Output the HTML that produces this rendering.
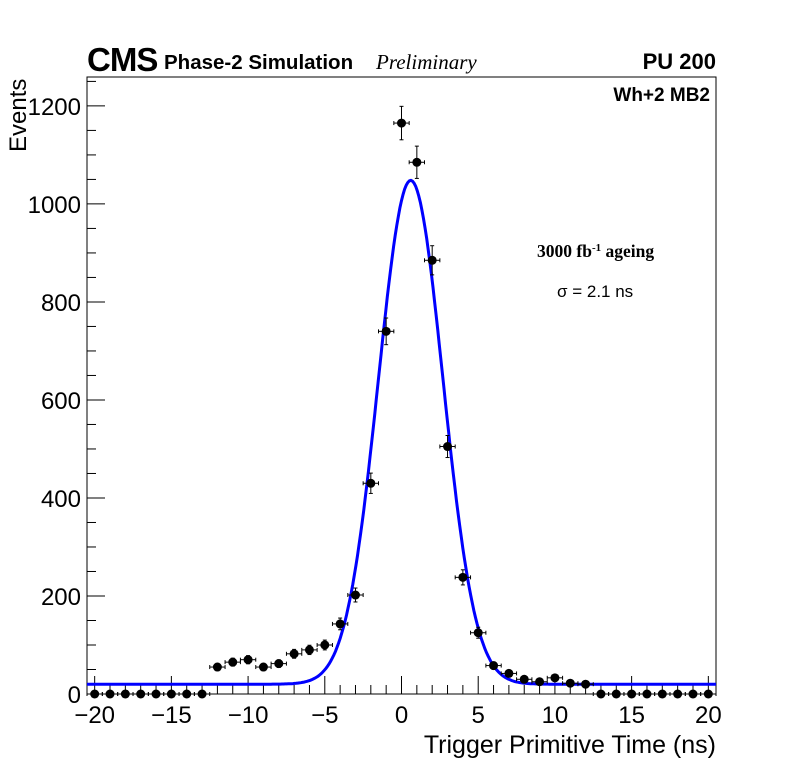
<!DOCTYPE html>
<html><head><meta charset="utf-8"><style>
html,body{margin:0;padding:0;background:#fff;}
svg{display:block;font-family:"Liberation Sans",sans-serif;}
</style></head><body>
<svg id="chart" width="796" height="772" viewBox="0 0 796 772">
<rect width="796" height="772" fill="#fff"/>
<g id="axes"></g>
<g id="marks"></g>
<text x="87" y="71" font-size="33" font-weight="bold" letter-spacing="-1">CMS</text>
<text x="164" y="69" font-size="20.5" font-weight="bold">Phase-2 Simulation</text>
<text x="376" y="69" font-size="21" font-style="italic" font-family="Liberation Serif,serif">Preliminary</text>
<text x="716" y="69" font-size="22" font-weight="bold" text-anchor="end">PU 200</text>
<text x="710" y="101" font-size="19" font-weight="bold" text-anchor="end">Wh+2 MB2</text>
<text x="537" y="257" font-size="17.5" font-weight="bold" font-family="Liberation Serif,serif">3000 fb<tspan dy="-6" font-size="11">-1</tspan><tspan dy="6"> ageing</tspan></text>
<text x="557" y="297" font-size="17">σ = 2.1 ns</text>
<text x="716" y="753" font-size="25" text-anchor="end">Trigger Primitive Time (ns)</text>
<text transform="translate(26,152) rotate(-90)" font-size="24">Events</text>
</svg>
<script>
const times=[-20,-19,-18,-17,-16,-15,-14,-13,-12,-11,-10,-9,-8,-7,-6,-5,-4,-3,-2,-1,0,1,2,3,4,5,6,7,8,9,10,11,12,13,14,15,16,17,18,19,20];
const counts=[0,0,0,0,0,0,0,0,55,65,70,55,62,82,90,100,143,202,430,740,1165,1085,885,505,238,125,58,42,30,25,33,22,20,0,0,0,0,0,0,0,0];
const fitParams=[1028,0.6,2.1,20];
const xTicks=[-20,-15,-10,-5,0,5,10,15,20];
const yTicks=[0,200,400,600,800,1000,1200];
const L=87,R=716,T=77,B=694,xmin=-20.5,xmax=20.5,ymin=0,ymax=1259;
const sx=v=>L+(v-xmin)/(xmax-xmin)*(R-L);
const sy=v=>B-(v-ymin)/(ymax-ymin)*(B-T);
const NS="http://www.w3.org/2000/svg";
function mk(p,tag,at){const e=document.createElementNS(NS,tag);for(const k in at)e.setAttribute(k,at[k]);p.appendChild(e);return e;}
const ax=document.getElementById('axes'),mg=document.getElementById('marks');
const frame=mk(ax,'rect',{x:L,y:T,width:R-L,height:B-T,fill:'none',stroke:'#000','stroke-width':1});


for(let v=-20;v<=20;v++){const maj=v%5===0;const t=mk(ax,'line',{x1:sx(v),x2:sx(v),y1:B,y2:B-(maj?18:9),stroke:'#000'});

}
xTicks.forEach(v=>{const t=mk(ax,'text',{x:sx(v),y:B+29,'font-size':24,'text-anchor':'middle'});t.textContent=(v<0?'\u2212'+(-v):v);

});
for(let v=0;v<=1250;v+=50){const maj=v%200===0;const t=mk(ax,'line',{x1:L,x2:L+(maj?18:9),y1:sy(v),y2:sy(v),stroke:'#000'});

}
yTicks.forEach(v=>{const t=mk(ax,'text',{x:L-6,y:sy(v)+9,'font-size':24,'text-anchor':'end'});t.textContent=v;

});
const [A,mu,sg,c]=fitParams;let d='';
for(let i=0;i<=400;i++){const x=xmin+(xmax-xmin)*i/400;const y=c+A*Math.exp(-0.5*((x-mu)/sg)**2);d+=(i?'L':'M')+sx(x).toFixed(1)+','+sy(y).toFixed(1);}
const fit=mk(mg,'path',{d:d,fill:'none',stroke:'#0000ff','stroke-width':3});


times.forEach((t,i)=>{const n=counts[i],e=Math.sqrt(n);const g=mk(mg,'g',{stroke:'#000','stroke-width':1});


mk(g,'line',{x1:sx(t-0.5),x2:sx(t+0.5),y1:sy(n),y2:sy(n)});
mk(g,'line',{x1:sx(t-0.5),x2:sx(t-0.5),y1:sy(n)-2,y2:sy(n)+2});
mk(g,'line',{x1:sx(t+0.5),x2:sx(t+0.5),y1:sy(n)-2,y2:sy(n)+2});
if(e>0){mk(g,'line',{x1:sx(t),x2:sx(t),y1:sy(n+e),y2:sy(Math.max(0,n-e))});
mk(g,'line',{x1:sx(t)-2,x2:sx(t)+2,y1:sy(n+e),y2:sy(n+e)});
mk(g,'line',{x1:sx(t)-2,x2:sx(t)+2,y1:sy(n-e),y2:sy(n-e)});}
mk(g,'circle',{cx:sx(t),cy:sy(n),r:4.5,fill:'#000',stroke:'none'});});
</script>
</body></html>
